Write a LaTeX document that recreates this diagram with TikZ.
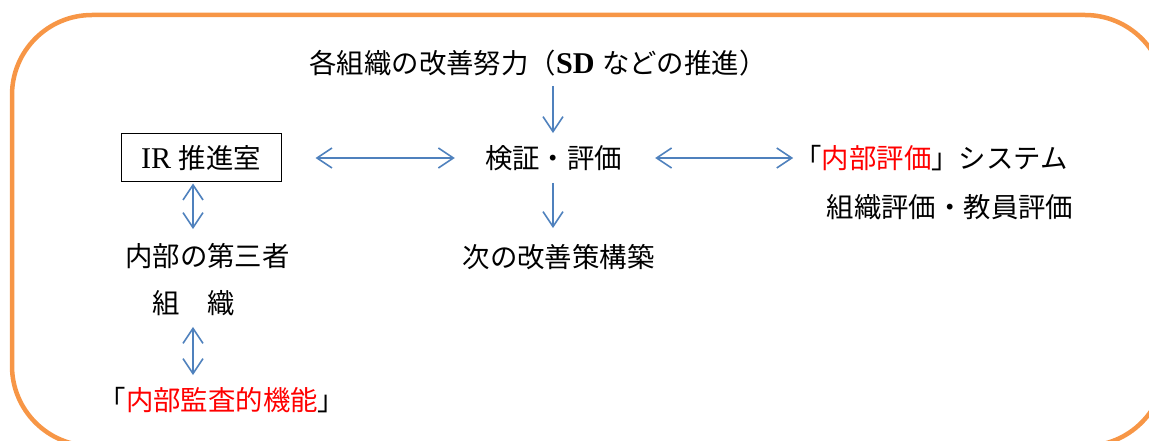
\documentclass[tikz,border=0pt]{standalone}
\usepackage{fontspec}
\setmainfont{Liberation Serif}[Scale=1.1]
\newfontfamily\jp{Noto Sans CJK JP}
\usetikzlibrary{arrows.meta}
\definecolor{frameor}{HTML}{F79646}
\definecolor{arrblue}{HTML}{4F81BD}
\definecolor{redtxt}{HTML}{FF0000}
\tikzset{
  txt/.style={inner sep=0pt, font=\fontsize{27.4}{30}\selectfont, text height=24pt, text depth=3.4pt, anchor=center},
  irbox/.style={txt, draw=black, line width=1pt, minimum width=160pt, minimum height=48pt},
  tipv/.tip={Straight Barb[length=15pt,width=20pt]},
  arr/.style={draw=arrblue, line width=1.6pt, -tipv},
  darr/.style={draw=arrblue, line width=1.6pt, tipv-tipv},
  framebox/.style={draw=frameor, line width=4.5pt, rounded corners=80pt}
}
\begin{document}
\begin{tikzpicture}[x=1pt,y=-1pt]
\useasboundingbox (0,0) rectangle (1149,441);
\begin{scope}
  \clip (0,0) rectangle (1149,441);
  \draw[framebox] (12,15) rectangle (1165,446);
\end{scope}
% nodes
\node[txt] (top) at (538,63) {{\jp 各組織の改善努力（}\textbf{SD} {\jp などの推進）}};
\node[txt] (ken) at (553.5,158) {\jp 検証・評価};
\node[txt] (next) at (558.5,257) {\jp 次の改善策構築};
\node[irbox] (ir) at (201,158) {IR {\jp 推進室}};
\node[txt] (naibu) at (931,158) {\jp 「\textcolor{redtxt}{内部評価}」システム};
\node[txt] (hyoka) at (950,207) {\jp 組織評価・教員評価};
\node[txt] (daisan) at (207.5,256) {\jp 内部の第三者};
\node[txt] (soshiki) at (193.5,303) {\jp 組　織};
\node[txt] (kansa) at (222,400) {\jp 「\textcolor{redtxt}{内部監査的機能}」};
\coordinate (vx) at (193,0);
\coordinate (dx) at (553,0);
% connectors
\draw[arr, shorten <=9pt, shorten >=11pt] (top.south -| dx) -- (ken.north -| dx);
\draw[arr, shorten <=11pt, shorten >=15pt] (ken.south -| dx) -- (next.north -| dx);
\draw[darr, shorten <=34pt, shorten >=30pt] (ir.east) -- (ken.west);
\draw[darr, shorten <=33pt, shorten >=1pt] (ken.east) -- (naibu.west);
\draw[darr, shorten <=1pt, shorten >=13pt] (ir.south -| vx) -- (daisan.north -| vx);
\draw[darr, shorten <=10pt, shorten >=11pt] (soshiki.south -| vx) -- (kansa.north -| vx);
\end{tikzpicture}
\end{document}
